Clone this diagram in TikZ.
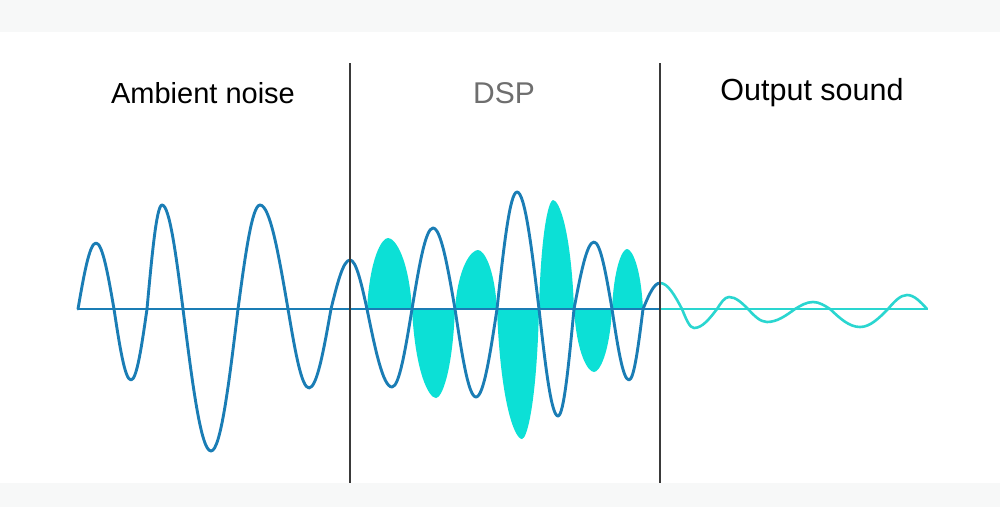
\documentclass[tikz,border=0pt]{standalone}
\usepackage{fontspec}
\setmainfont{Liberation Sans}
\definecolor{bandgray}{HTML}{F7F8F8}
\definecolor{waveblue}{HTML}{1A7DB5}
\definecolor{antifill}{HTML}{0CE0D6}
\definecolor{outcyan}{HTML}{2AD6D0}
\definecolor{divider}{HTML}{3A3A3A}
\definecolor{dspgray}{HTML}{6E6E6E}
\newcommand{\lobe}[4]{% x0, xpeak, ypeak, x1
  \fill[antifill] (#1,309) .. controls ({#1+0.14*(#2-#1)},{309+0.72*(#3-309)}) and ({#2-0.3*(#2-#1)},#3) .. (#2,#3)
    .. controls ({#2+0.3*(#4-#2)},#3) and ({#4-0.14*(#4-#2)},{309+0.72*(#3-309)}) .. (#4,309) -- cycle;}
\tikzset{
  label/.style={anchor=base, inner sep=0pt, font=\fontsize{29}{34}\selectfont},
  wave/.style={draw=waveblue, line width=2.9pt, line join=round, line cap=round},
  outwave/.style={draw=outcyan, line width=2.6pt, line join=round, line cap=round},
  divline/.style={draw=divider, line width=1.6pt}
}
\begin{document}
\begin{tikzpicture}[x=1pt,y=-1pt]
\useasboundingbox (0,0) rectangle (1000,507);
\fill[white] (0,0) rectangle (1000,507);
\fill[bandgray] (0,0) rectangle (1000,32);
\fill[bandgray] (0,483) rectangle (1000,507);
% titles
\node[label] (amb) at (203,103) {Ambient noise};
\node[label, text=dspgray, font=\fontsize{30}{34}\selectfont] (dsp) at (504,103) {DSP};
\node[label, font=\fontsize{30.5}{34}\selectfont] (out) at (812,100) {Output sound};
% anti-noise lobes
\lobe{367}{388}{238}{412}
\lobe{412}{436}{398}{455}
\lobe{455}{478}{250}{497}
\lobe{497}{522}{439}{539}
\lobe{539}{553}{200}{574}
\lobe{574}{594}{372}{612}
\lobe{612}{627}{249}{643}
% axes
\draw[waveblue, line width=2.6pt] (78,309) -- (660,309);
\draw[outcyan, line width=2.4pt] (660,309) -- (927,309);
% output sound
\draw[outwave] (660,283) cos (682,309) sin (694,328) cos (717,309) sin (729,297) cos (748,309)
  sin (767,322) cos (795,309) sin (813,302) cos (830,309) sin (860,327) cos (888,309)
  sin (907,295) cos (927,309);
% ambient noise wave
\draw[wave] (78,309) sin (96,243) cos (114,309) sin (131,380) cos (147,309) sin (162,205)
  cos (183,309) sin (211,451) cos (238,309) sin (260,205) cos (288,309) sin (309,388)
  cos (331,309) sin (350,260) cos (367,309) sin (392,387) cos (412,309) sin (433,228)
  cos (455,309) sin (476,397) cos (497,309) sin (517,192) cos (539,309) sin (558,416)
  cos (574,309) sin (594,242) cos (612,309) sin (629,380) cos (643,309) sin (660,283);
% dividers
\coordinate (d1t) at (350,63); \coordinate (d1b) at (350,483);
\coordinate (d2t) at (660,63); \coordinate (d2b) at (660,483);
\draw[divline] (d1t) -- (d1b);
\draw[divline] (d2t) -- (d2b);
\end{tikzpicture}
\end{document}
